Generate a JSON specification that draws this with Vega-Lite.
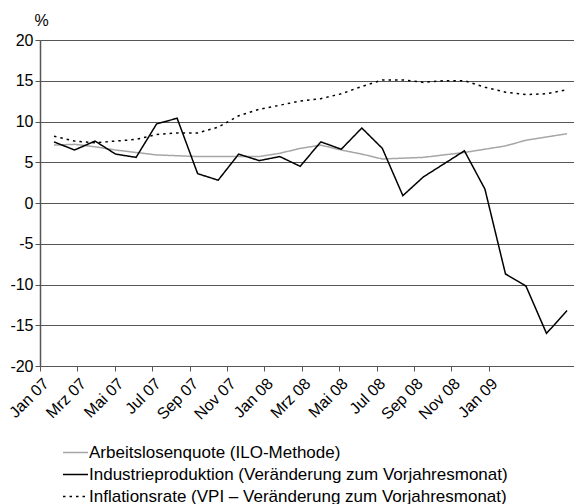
{
  "$schema": "https://vega.github.io/schema/vega-lite/v6.json",
  "width": 534,
  "height": 326,
  "autosize": {"type": "none"},
  "padding": {"left": 40, "top": 40, "right": 0, "bottom": 138},
  "background": "white",
  "config": {
    "font": "Liberation Sans",
    "view": {"stroke": null}
  },
  "data": {
    "values": [
      {"m": 0, "monat": "Jan 07", "serie": "A", "wert": 7.1},
      {"m": 1, "monat": "Feb 07", "serie": "A", "wert": 7.2},
      {"m": 2, "monat": "Mrz 07", "serie": "A", "wert": 6.9},
      {"m": 3, "monat": "Apr 07", "serie": "A", "wert": 6.5},
      {"m": 4, "monat": "Mai 07", "serie": "A", "wert": 6.2},
      {"m": 5, "monat": "Jun 07", "serie": "A", "wert": 5.9},
      {"m": 6, "monat": "Jul 07", "serie": "A", "wert": 5.8},
      {"m": 7, "monat": "Aug 07", "serie": "A", "wert": 5.7},
      {"m": 8, "monat": "Sep 07", "serie": "A", "wert": 5.7},
      {"m": 9, "monat": "Okt 07", "serie": "A", "wert": 5.7},
      {"m": 10, "monat": "Nov 07", "serie": "A", "wert": 5.7},
      {"m": 11, "monat": "Dez 07", "serie": "A", "wert": 6.1},
      {"m": 12, "monat": "Jan 08", "serie": "A", "wert": 6.7},
      {"m": 13, "monat": "Feb 08", "serie": "A", "wert": 7.1},
      {"m": 14, "monat": "Mrz 08", "serie": "A", "wert": 6.5},
      {"m": 15, "monat": "Apr 08", "serie": "A", "wert": 6.0},
      {"m": 16, "monat": "Mai 08", "serie": "A", "wert": 5.4},
      {"m": 17, "monat": "Jun 08", "serie": "A", "wert": 5.5},
      {"m": 18, "monat": "Jul 08", "serie": "A", "wert": 5.6},
      {"m": 19, "monat": "Aug 08", "serie": "A", "wert": 5.9},
      {"m": 20, "monat": "Sep 08", "serie": "A", "wert": 6.2},
      {"m": 21, "monat": "Okt 08", "serie": "A", "wert": 6.6},
      {"m": 22, "monat": "Nov 08", "serie": "A", "wert": 7.0},
      {"m": 23, "monat": "Dez 08", "serie": "A", "wert": 7.7},
      {"m": 24, "monat": "Jan 09", "serie": "A", "wert": 8.1},
      {"m": 25, "monat": "Feb 09", "serie": "A", "wert": 8.5},
      {"m": 0, "monat": "Jan 07", "serie": "I", "wert": 7.5},
      {"m": 1, "monat": "Feb 07", "serie": "I", "wert": 6.5},
      {"m": 2, "monat": "Mrz 07", "serie": "I", "wert": 7.6},
      {"m": 3, "monat": "Apr 07", "serie": "I", "wert": 6.0},
      {"m": 4, "monat": "Mai 07", "serie": "I", "wert": 5.6},
      {"m": 5, "monat": "Jun 07", "serie": "I", "wert": 9.7},
      {"m": 6, "monat": "Jul 07", "serie": "I", "wert": 10.4},
      {"m": 7, "monat": "Aug 07", "serie": "I", "wert": 3.6},
      {"m": 8, "monat": "Sep 07", "serie": "I", "wert": 2.8},
      {"m": 9, "monat": "Okt 07", "serie": "I", "wert": 6.0},
      {"m": 10, "monat": "Nov 07", "serie": "I", "wert": 5.2},
      {"m": 11, "monat": "Dez 07", "serie": "I", "wert": 5.7},
      {"m": 12, "monat": "Jan 08", "serie": "I", "wert": 4.5},
      {"m": 13, "monat": "Feb 08", "serie": "I", "wert": 7.5},
      {"m": 14, "monat": "Mrz 08", "serie": "I", "wert": 6.6},
      {"m": 15, "monat": "Apr 08", "serie": "I", "wert": 9.2},
      {"m": 16, "monat": "Mai 08", "serie": "I", "wert": 6.7},
      {"m": 17, "monat": "Jun 08", "serie": "I", "wert": 0.9},
      {"m": 18, "monat": "Jul 08", "serie": "I", "wert": 3.2},
      {"m": 19, "monat": "Aug 08", "serie": "I", "wert": 4.8},
      {"m": 20, "monat": "Sep 08", "serie": "I", "wert": 6.4},
      {"m": 21, "monat": "Okt 08", "serie": "I", "wert": 1.7},
      {"m": 22, "monat": "Nov 08", "serie": "I", "wert": -8.7},
      {"m": 23, "monat": "Dez 08", "serie": "I", "wert": -10.2},
      {"m": 24, "monat": "Jan 09", "serie": "I", "wert": -16.0},
      {"m": 25, "monat": "Feb 09", "serie": "I", "wert": -13.2},
      {"m": 0, "monat": "Jan 07", "serie": "V", "wert": 8.2},
      {"m": 1, "monat": "Feb 07", "serie": "V", "wert": 7.6},
      {"m": 2, "monat": "Mrz 07", "serie": "V", "wert": 7.4},
      {"m": 3, "monat": "Apr 07", "serie": "V", "wert": 7.6},
      {"m": 4, "monat": "Mai 07", "serie": "V", "wert": 7.8},
      {"m": 5, "monat": "Jun 07", "serie": "V", "wert": 8.4},
      {"m": 6, "monat": "Jul 07", "serie": "V", "wert": 8.6},
      {"m": 7, "monat": "Aug 07", "serie": "V", "wert": 8.6},
      {"m": 8, "monat": "Sep 07", "serie": "V", "wert": 9.3},
      {"m": 9, "monat": "Okt 07", "serie": "V", "wert": 10.7},
      {"m": 10, "monat": "Nov 07", "serie": "V", "wert": 11.5},
      {"m": 11, "monat": "Dez 07", "serie": "V", "wert": 12.0},
      {"m": 12, "monat": "Jan 08", "serie": "V", "wert": 12.5},
      {"m": 13, "monat": "Feb 08", "serie": "V", "wert": 12.8},
      {"m": 14, "monat": "Mrz 08", "serie": "V", "wert": 13.4},
      {"m": 15, "monat": "Apr 08", "serie": "V", "wert": 14.3},
      {"m": 16, "monat": "Mai 08", "serie": "V", "wert": 15.1},
      {"m": 17, "monat": "Jun 08", "serie": "V", "wert": 15.1},
      {"m": 18, "monat": "Jul 08", "serie": "V", "wert": 14.8},
      {"m": 19, "monat": "Aug 08", "serie": "V", "wert": 15.0},
      {"m": 20, "monat": "Sep 08", "serie": "V", "wert": 15.0},
      {"m": 21, "monat": "Okt 08", "serie": "V", "wert": 14.2},
      {"m": 22, "monat": "Nov 08", "serie": "V", "wert": 13.6},
      {"m": 23, "monat": "Dez 08", "serie": "V", "wert": 13.3},
      {"m": 24, "monat": "Jan 09", "serie": "V", "wert": 13.4},
      {"m": 25, "monat": "Feb 09", "serie": "V", "wert": 13.9}
    ]
  },
  "mark": {"type": "line", "strokeJoin": "miter", "strokeCap": "butt"},
  "encoding": {
    "x": {
      "field": "m",
      "type": "quantitative",
      "scale": {"domain": [-0.682, 25.34], "nice": false, "zero": false},
      "axis": {
        "values": [-0.682, 1.1406, 2.9632, 4.7858, 6.6084, 8.431, 10.2536, 12.0762, 13.8988, 15.7214, 17.544, 19.3666, 21.1892],
        "labelExpr": "['Jan 07','Mrz 07','Mai 07','Jul 07','Sep 07','Nov 07','Jan 08','Mrz 08','Mai 08','Jul 08','Sep 08','Nov 08','Jan 09'][round((datum.value + 0.682) / 1.8226)]",
        "labelAngle": -45,
        "labelAlign": "right",
        "labelBaseline": "top",
        "labelFontSize": 16,
        "labelColor": "#000000",
        "labelPadding": 4,
        "labelOverlap": false,
        "labelBound": false,
        "labelFlush": false,
        "grid": false,
        "domain": false,
        "tickColor": "#555555",
        "tickSize": 5,
        "title": null
      }
    },
    "y": {
      "field": "wert",
      "type": "quantitative",
      "scale": {"domain": [-20, 20], "nice": false},
      "axis": {
        "values": [-20, -15, -10, -5, 0, 5, 10, 15, 20],
        "labelExpr": "'' + datum.value",
        "labelFontSize": 16,
        "labelColor": "#000000",
        "labelPadding": 2,
        "grid": true,
        "gridColor": "#555555",
        "gridWidth": 1.2,
        "gridOpacity": 1,
        "domainColor": "#555555",
        "domainWidth": 1.5,
        "tickColor": "#555555",
        "tickSize": 5,
        "title": "%",
        "titleAngle": 0,
        "titleAlign": "left",
        "titleBaseline": "alphabetic",
        "titleFontWeight": "normal",
        "titleFontSize": 16,
        "titleColor": "#000000",
        "titleX": -6,
        "titleY": -15
      }
    },
    "stroke": {
      "field": "serie",
      "type": "nominal",
      "scale": {
        "domain": ["A", "I", "V"],
        "range": ["#a6a6a6", "#000000", "#000000"]
      },
      "legend": {
        "orient": "none",
        "legendX": 22,
        "legendY": 399,
        "title": null,
        "symbolType": "stroke",
        "symbolSize": 625,
        "symbolStrokeWidth": 1.5,
        "labelFontSize": 17,
        "labelColor": "#000000",
        "labelOffset": 0,
        "labelLimit": 600,
        "rowPadding": -3.5,
        "labelExpr": "datum.value == 'A' ? 'Arbeitslosenquote (ILO-Methode)' : datum.value == 'I' ? 'Industrieproduktion (Veränderung zum Vorjahresmonat)' : 'Inflationsrate (VPI – Veränderung zum Vorjahresmonat)'"
      }
    },
    "strokeDash": {
      "field": "serie",
      "type": "nominal",
      "scale": {
        "domain": ["A", "I", "V"],
        "range": [[1, 0], [1, 0], [2.5, 4]]
      },
      "legend": {
        "orient": "none",
        "legendX": 22,
        "legendY": 399,
        "title": null,
        "symbolType": "stroke",
        "symbolSize": 625,
        "symbolStrokeWidth": 1.5,
        "labelFontSize": 17,
        "labelColor": "#000000",
        "labelOffset": 0,
        "labelLimit": 600,
        "rowPadding": -3.5,
        "labelExpr": "datum.value == 'A' ? 'Arbeitslosenquote (ILO-Methode)' : datum.value == 'I' ? 'Industrieproduktion (Veränderung zum Vorjahresmonat)' : 'Inflationsrate (VPI – Veränderung zum Vorjahresmonat)'"
      }
    },
    "strokeWidth": {
      "field": "serie",
      "type": "nominal",
      "scale": {
        "domain": ["A", "I", "V"],
        "range": [1.5, 1.5, 2.8]
      },
      "legend": null
    }
  }
}
